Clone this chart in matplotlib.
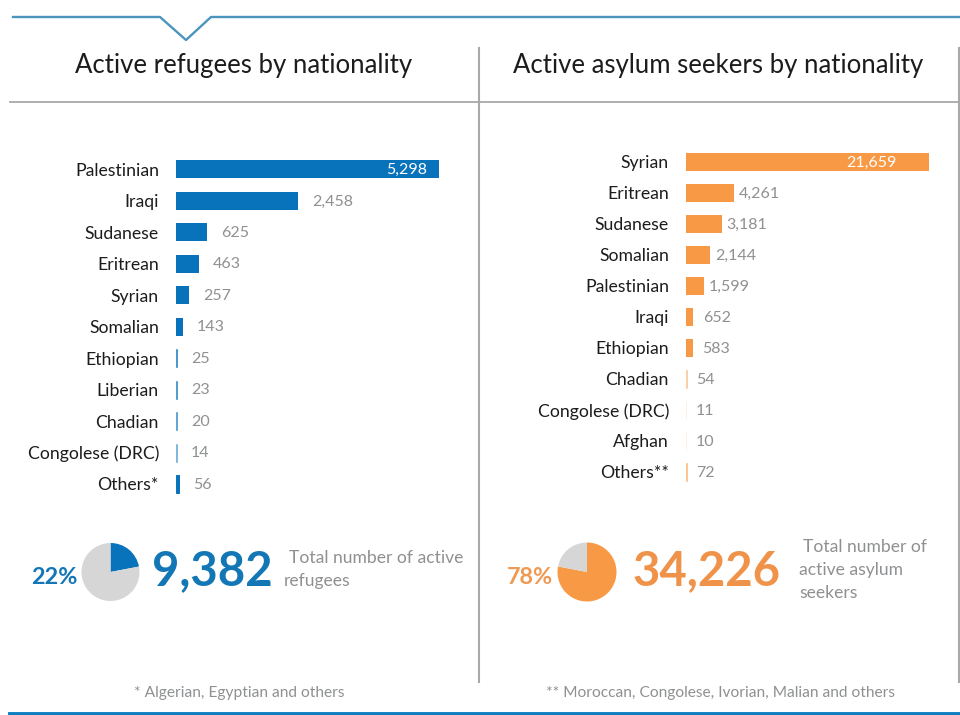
import matplotlib
matplotlib.use("Agg")
import matplotlib.pyplot as plt

plt.rcParams["font.family"] = ["Lato", "DejaVu Sans"]

W, H = 960, 715

# left panel data
ref_names = ["Palestinian", "Iraqi", "Sudanese", "Eritrean", "Syrian", "Somalian",
             "Ethiopian", "Liberian", "Chadian", "Congolese (DRC)", "Others*"]
ref_values = [5298, 2458, 625, 463, 257, 143, 25, 23, 20, 14, 56]
ref_share = [22, 78]

# right panel data
asy_names = ["Syrian", "Eritrean", "Sudanese", "Somalian", "Palestinian", "Iraqi",
             "Ethiopian", "Chadian", "Congolese (DRC)", "Afghan", "Others**"]
asy_values = [21659, 4261, 3181, 2144, 1599, 652, 583, 54, 11, 10, 72]
asy_share = [78, 22]

BLUE = "#0872ba"
ORANGE = "#f89a45"
GREY_PIE = "#d6d6d6"
GREY_TEXT = "#8f9092"
DARK = "#1c1c1c"
LINE = "#a9a9a9"


def px_axes(fig, x0, y0, x1, y1):
    # axes placed with picture pixels (y counted from the top)
    return fig.add_axes([x0 / W, 1 - y1 / H, (x1 - x0) / W, (y1 - y0) / H])


def bars(fig, names, values, color, x0, x1, y_first, y_last, inside, near, far, limit):
    step = (y_last - y_first) / (len(names) - 1)
    ax = px_axes(fig, x0, y_first - step / 2, x1, y_last + step / 2)
    rects = ax.barh(range(len(names)), values, height=18 / step, color=color, linewidth=0)
    ax.set_xlim(0, max(values))
    ax.set_ylim(len(names) - 0.5, -0.5)
    ax.set_yticks(range(len(names)), names)
    ax.set_xticks([])
    ax.tick_params(axis="y", length=0, pad=17 * 0.72, labelsize=12.7, labelcolor=DARK)
    ax.patch.set_alpha(0)
    for s in ax.spines.values():
        s.set_visible(False)
    # the thinnest bars look like pale blurred strokes in the original
    for rect, v in zip(rects, values):
        w = v * (x1 - x0) / max(values)
        if w < 3:
            rect.set_edgecolor(color)
            rect.set_linewidth(0.7)
            rect.set_alpha(min(1, 0.1 + 0.42 * w))
    for i, v in enumerate(values):
        if v == max(values):
            ax.annotate(f"{v:,}", (v, i), xytext=(-inside * 0.72, -0.7), textcoords="offset points",
                        ha="right", va="center", color="white", fontsize=11.5)
        else:
            off = near if v > limit else far
            ax.annotate(f"{v:,}", (v, i), xytext=(off * 0.72, -0.7), textcoords="offset points",
                        ha="left", va="center", color=GREY_TEXT, fontsize=11.5)
    return ax


def pie(fig, share, colors, cx, cy, r):
    ax = px_axes(fig, cx - r, cy - r, cx + r, cy + r)
    ax.pie(share, colors=colors, startangle=90, counterclock=False, radius=1)
    ax.set_xlim(-1, 1)
    ax.set_ylim(-1, 1)


fig = plt.figure(figsize=(W / 100, H / 100), dpi=100, facecolor="white")

# frame lines and headings are laid out on a full size axes in pixels
bg = fig.add_axes([0, 0, 1, 1])
bg.set_xlim(0, W)
bg.set_ylim(H, 0)
bg.axis("off")
bg.plot([13, 160, 186, 211, 960], [17, 17, 40, 17, 17], color="#4b94bd", lw=1.7)
bg.plot([10, 960], [102, 102], color=LINE, lw=1.3)
bg.plot([479, 479], [48, 682], color=LINE, lw=1.5)
bg.plot([959, 959], [48, 682], color=LINE, lw=1.5)
bg.plot([10, 960], [713.5, 713.5], color="#0f7fc0", lw=2.8)

bg.text(244, 65, "Active refugees by nationality", ha="center", va="center",
        fontsize=18.5, color=DARK)
bg.text(718.5, 65, "Active asylum seekers by nationality", ha="center", va="center",
        fontsize=18.5, color=DARK)

bars(fig, ref_names, ref_values, BLUE, 176, 439, 169, 484, 12, 14, 14.5, 0)
bars(fig, asy_names, asy_values, ORANGE, 686, 929, 161.5, 472, 32, 5, 9.5, 1000)

pie(fig, ref_share, [BLUE, GREY_PIE], 110.5, 572, 29)
pie(fig, asy_share, [ORANGE, GREY_PIE], 587, 572, 29.5)

bg.text(54, 578, "22%", ha="center", va="center", fontsize=16.8, color="#1477b5", fontweight="bold")
bg.text(212.5, 571, "9,382", ha="center", va="center", fontsize=34, color="#1477b5", fontweight="bold")
bg.text(289, 558, "Total number of active", ha="left", va="center", fontsize=12.6, color=GREY_TEXT)
bg.text(284, 581, "refugees", ha="left", va="center", fontsize=12.6, color=GREY_TEXT)

bg.text(529.5, 578, "78%", ha="center", va="center", fontsize=16.8, color="#ee9a55", fontweight="bold")
bg.text(706.5, 571, "34,226", ha="center", va="center", fontsize=34, color="#f0934a", fontweight="bold")
bg.text(803, 547, "Total number of", ha="left", va="center", fontsize=12.6, color=GREY_TEXT)
bg.text(799, 570, "active asylum", ha="left", va="center", fontsize=12.6, color=GREY_TEXT)
bg.text(799, 593, "seekers", ha="left", va="center", fontsize=12.6, color=GREY_TEXT)

bg.text(239, 693, "* Algerian, Egyptian and others", ha="center", va="center", fontsize=11.2, color=GREY_TEXT)
bg.text(720, 693, "** Moroccan, Congolese, Ivorian, Malian and others", ha="center", va="center",
        fontsize=11.2, color=GREY_TEXT)

fig.savefig("out.png", dpi=100)
